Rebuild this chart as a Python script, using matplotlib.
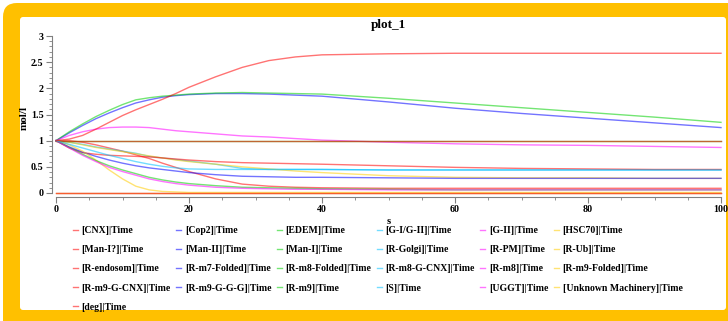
import matplotlib
matplotlib.use("Agg")
import matplotlib.pyplot as plt
from matplotlib.patches import FancyBboxPatch
from matplotlib.ticker import MultipleLocator

plt.rcParams['font.family'] = ['Liberation Serif', 'DejaVu Serif']
plt.rcParams['font.weight'] = 'bold'

# time points (s)
t = [0, 2, 4, 6, 8, 10, 12, 14, 16, 18, 20, 24, 28, 32, 36, 40, 50, 60, 70, 80, 90, 100]

species = ['CNX', 'Cop2', 'EDEM', 'G-I/G-II', 'G-II', 'HSC70',
           'Man-I?', 'Man-II', 'Man-I', 'R-Golgi', 'R-PM', 'R-Ub',
           'R-endosom', 'R-m7-Folded', 'R-m8-Folded', 'R-m8-G-CNX', 'R-m8', 'R-m9-Folded',
           'R-m9-G-CNX', 'R-m9-G-G-G', 'R-m9', 'S', 'UGGT', 'Unknown Machinery',
           'deg']

one = [1.0] * len(t)
zero = [0.0] * len(t)

cnx = [1.0, 1.0, 0.97, 0.92, 0.86, 0.8, 0.73, 0.66, 0.57, 0.49, 0.41, 0.27, 0.17, 0.13, 0.11, 0.1,
       0.09, 0.09, 0.09, 0.09, 0.09, 0.09]
cop2 = [1.0, 1.15, 1.29, 1.42, 1.53, 1.63, 1.72, 1.78, 1.83, 1.86, 1.88, 1.9, 1.9, 1.89, 1.87, 1.85,
        1.74, 1.62, 1.52, 1.43, 1.34, 1.25]
edem = [1.0, 1.17, 1.32, 1.46, 1.58, 1.69, 1.78, 1.82, 1.85, 1.87, 1.89, 1.91, 1.92, 1.91, 1.9, 1.89,
        1.81, 1.72, 1.63, 1.54, 1.45, 1.35]
gi_gii = [1.0, 0.97, 0.93, 0.88, 0.84, 0.8, 0.76, 0.7, 0.67, 0.64, 0.61, 0.55, 0.47, 0.45, 0.45, 0.45,
          0.44, 0.44, 0.44, 0.44, 0.44, 0.44]
g_ii = [1.0, 1.1, 1.17, 1.22, 1.25, 1.26, 1.26, 1.25, 1.22, 1.19, 1.17, 1.13, 1.09, 1.07, 1.04, 1.01,
        0.97, 0.94, 0.92, 0.91, 0.89, 0.87]
hsc70 = [1.0, 0.97, 0.92, 0.87, 0.83, 0.79, 0.75, 0.71, 0.67, 0.63, 0.6, 0.55, 0.5, 0.46, 0.42, 0.39,
         0.33, 0.3, 0.29, 0.29, 0.28, 0.28]
man_iq = [1.0, 0.86, 0.77, 0.74, 0.72, 0.71, 0.7, 0.69, 0.67, 0.65, 0.63, 0.6, 0.58, 0.57, 0.56, 0.55,
          0.52, 0.49, 0.47, 0.46, 0.45, 0.45]
man_ii = [1.0, 0.88, 0.78, 0.7, 0.63, 0.57, 0.52, 0.48, 0.45, 0.42, 0.39, 0.35, 0.32, 0.31, 0.3, 0.3,
          0.29, 0.28, 0.28, 0.28, 0.28, 0.28]
man_i = one
r_golgi = zero
r_pm = zero
r_ub = [1.0, 0.92, 0.8, 0.63, 0.44, 0.27, 0.13, 0.06, 0.03, 0.02, 0.01, 0.01, 0.01, 0.01, 0.01, 0.01,
        0.01, 0.01, 0.01, 0.01, 0.01, 0.01]
r_endosom = one
r_m7_folded = zero
r_m8_folded = [1.0, 0.87, 0.74, 0.62, 0.52, 0.44, 0.37, 0.3, 0.25, 0.21, 0.18, 0.14, 0.11, 0.1, 0.09, 0.08,
               0.07, 0.06, 0.06, 0.06, 0.06, 0.06]
r_m8_g_cnx = zero
r_m8 = [1.0, 0.86, 0.72, 0.6, 0.49, 0.41, 0.34, 0.27, 0.22, 0.18, 0.15, 0.11, 0.09, 0.08, 0.07, 0.07,
        0.06, 0.06, 0.06, 0.06, 0.06, 0.06]
r_m9_folded = zero
r_m9_g_cnx = zero
r_m9_g_g_g = zero
r_m9 = zero
s_sp = [1.0, 0.93, 0.86, 0.79, 0.72, 0.66, 0.6, 0.55, 0.51, 0.48, 0.46, 0.45, 0.45, 0.45, 0.45, 0.45,
        0.44, 0.44, 0.44, 0.44, 0.44, 0.44]
uggt = zero
unknown = zero
deg = [1.0, 1.03, 1.1, 1.22, 1.35, 1.48, 1.59, 1.69, 1.79, 1.9, 2.02, 2.22, 2.4, 2.53, 2.6, 2.64,
       2.66, 2.67, 2.67, 2.67, 2.67, 2.67]

values = [cnx, cop2, edem, gi_gii, g_ii, hsc70,
          man_iq, man_ii, man_i, r_golgi, r_pm, r_ub,
          r_endosom, r_m7_folded, r_m8_folded, r_m8_g_cnx, r_m8, r_m9_folded,
          r_m9_g_cnx, r_m9_g_g_g, r_m9, s_sp, uggt, unknown,
          deg]

colors = ['#ff0000', '#0000ff', '#00d000', '#00c0ff', '#ff00ff', '#ffcc00']
# series hidden under the zero line: drawn below it, very faint
faint = {'R-Golgi', 'R-PM', 'R-m7-Folded', 'R-m8-G-CNX', 'R-m9-G-G-G', 'R-m9', 'UGGT',
         'Unknown Machinery'}

fig = plt.figure(figsize=(7.28, 3.21), dpi=100, facecolor='white')

# orange frame behind everything
bg = fig.add_axes([0, 0, 1, 1], zorder=-10)
bg.set_xlim(0, 728)
bg.set_ylim(321, 0)
bg.axis('off')
bg.add_patch(FancyBboxPatch((3, 3), 760, 360, boxstyle='round,pad=0,rounding_size=14',
                            fc='#ffc000', ec='none'))
bg.add_patch(FancyBboxPatch((20, 17), 706, 293, boxstyle='round,pad=0,rounding_size=3',
                            fc='white', ec='none'))

ax = fig.add_axes([56 / 728, 1 - 193 / 321, 665 / 728, 157 / 321])
ax.patch.set_alpha(0)

lines = []
for i, (name, v) in enumerate(zip(species, values)):
    hidden = name in faint
    ln, = ax.plot(t, v, color=colors[i % 6], lw=1.0, clip_on=False,
                  alpha=0.03 if hidden else 0.55, zorder=1 if hidden else 2,
                  label='[%s]|Time' % name)
    lines.append(ln)

ax.set_xlim(0, 100)
ax.set_ylim(0, 3)
for sp in ['top', 'right']:
    ax.spines[sp].set_visible(False)
for sp in ['left', 'bottom']:
    ax.spines[sp].set_position(('outward', 3))
    ax.spines[sp].set_color('#808080')
ax.xaxis.set_major_locator(MultipleLocator(20))
ax.xaxis.set_minor_locator(MultipleLocator(5))
ax.yaxis.set_major_locator(MultipleLocator(0.5))
ax.yaxis.set_minor_locator(MultipleLocator(0.1))
ax.tick_params(which='major', length=4, width=0.8, color='#808080', labelsize=7.2, pad=2)
ax.tick_params(which='minor', length=2, width=0.6, color='#808080')
ax.set_yticks([0, 0.5, 1, 1.5, 2, 2.5, 3])
ax.set_yticklabels(['0', '0.5', '1', '1.5', '2', '2.5', '3'])

ax.set_title('plot_1', fontsize=9.5, fontweight='bold', pad=6)
ax.set_ylabel('mol/l', fontsize=8, fontweight='bold')
ax.yaxis.set_label_coords(-0.041, 0.478)
ax.set_xlabel('s', fontsize=7.5, fontweight='bold', labelpad=2)

order = [i for c in range(6) for i in range(c, len(species), 6)]
leg = fig.legend([lines[i] for i in order], [lines[i].get_label() for i in order],
                 ncol=6, loc='upper left', bbox_to_anchor=(73 / 728, 1 - 226 / 321),
                 frameon=False, fontsize=7, handlelength=0.5, handletextpad=0.4,
                 columnspacing=0.55, labelspacing=1.05, borderpad=0, borderaxespad=0)
for h in leg.legend_handles:
    h.set_alpha(0.55)

fig.savefig('out.png', dpi=100, facecolor='white')
